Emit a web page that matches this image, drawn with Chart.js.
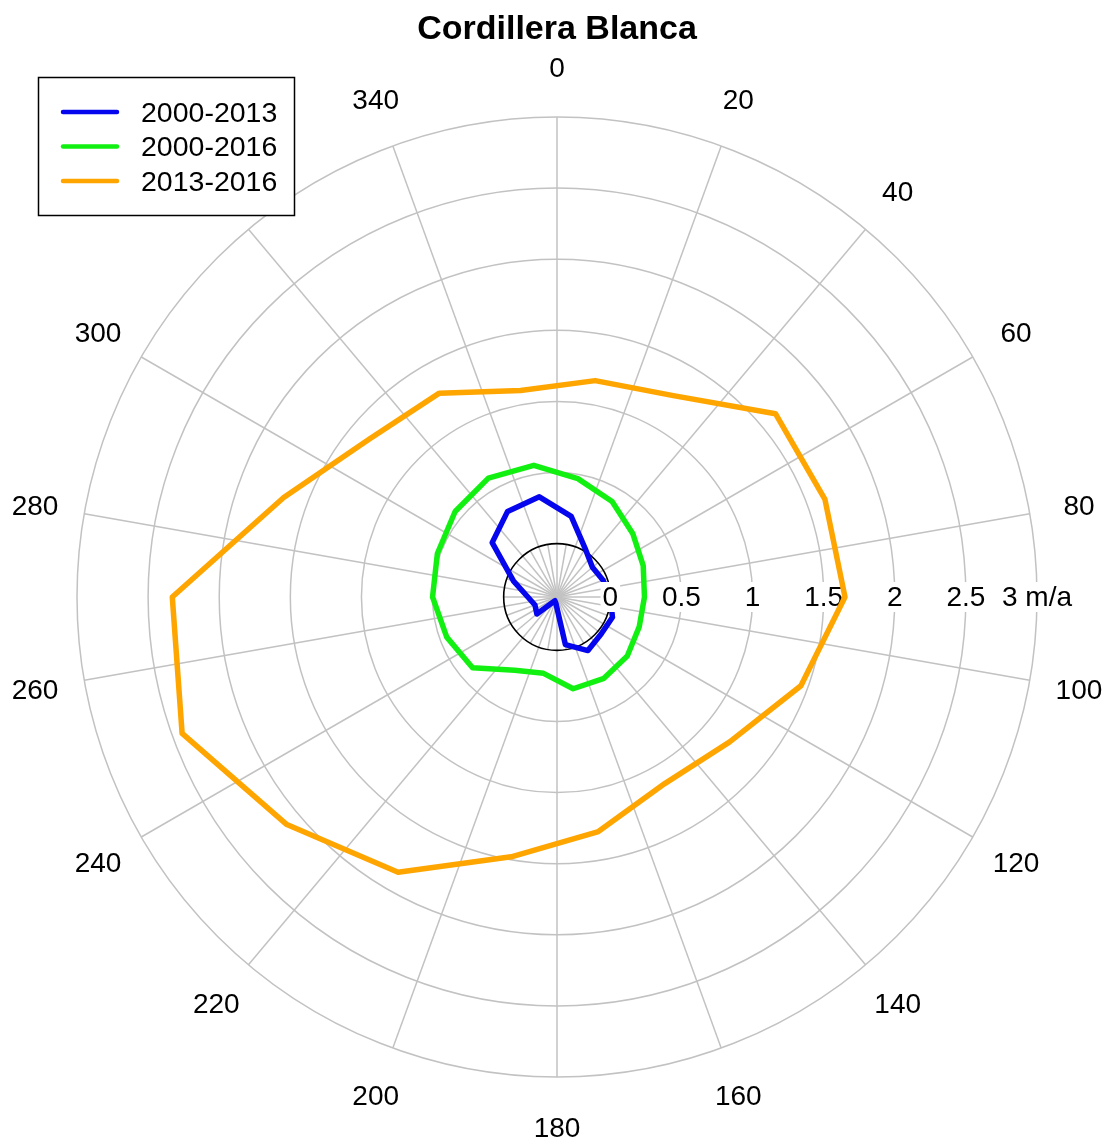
<!DOCTYPE html>
<html>
<head>
<meta charset="utf-8">
<script src="https://cdn.jsdelivr.net/npm/chart.js@4/dist/chart.umd.min.js"></script>
<style>
  html, body { margin: 0; padding: 0; background: #fff; }
  #wrap { width: 1108px; height: 1144px; position: relative; }
</style>
</head>
<body>
<div id="wrap"><canvas id="rosa"></canvas></div>
<script>
// Direcciones (grados) de la malla y de los datos
const gridAngles = [0, 10, 20, 30, 40, 50, 60, 70, 80, 90, 100, 110, 120, 130, 140, 150, 160, 170,
                    180, 190, 200, 210, 220, 230, 240, 250, 260, 270, 280, 290, 300, 310, 320, 330, 340, 350];
const directions = [10, 30, 50, 70, 90, 110, 130, 150, 170, 190, 210, 230, 250, 270, 290, 310, 330, 350];

// Tasas (m/a) por dirección
const rate2000_2013 = [0.20, 0.02, -0.05, -0.03, 0.00, 0.04, 0.03, 0.06, -0.035, -0.33, -0.345, -0.19, -0.21, -0.17, -0.05, 0.22, 0.32, 0.34];
const rate2000_2016 = [0.47, 0.40, 0.32, 0.27, 0.24, 0.24, 0.27, 0.285, 0.28, 0.17, 0.22, 0.40, 0.45, 0.50, 0.52, 0.56, 0.59, 0.565];
const rate2013_2016 = [1.17, 1.26, 1.63, 1.63, 1.65, 1.45, 1.21, 1.14, 1.30, 1.48, 1.86, 2.11, 2.43, 2.33, 1.67, 1.35, 1.28, 1.10];

const seriesNames = ['2000-2013', '2000-2016', '2013-2016'];
const seriesColors = ['#0505ee', '#12f012', '#ffa500'];

// Ejes
const angleTickLabels = ['0', '20', '40', '60', '80', '100', '120', '140', '160',
                         '180', '200', '220', '240', '260', '280', '300', '320', '340'];
const radialTicks = [0, 0.5, 1, 1.5, 2, 2.5, 3];
const radialTickLabels = ['0', '0.5', '1', '1.5', '2', '2.5', '3 m/a'];
const rMin = -0.375;
const rMax = 3;

const FONT = '"Liberation Sans", Arial, Helvetica, sans-serif';
const GRAY = '#c2c2c2';

// pone cada valor en su dirección, null en las direcciones intermedias
function onGrid(values) {
    return gridAngles.map(a => {
        const k = directions.indexOf(a);
        return k < 0 ? null : values[k];
    });
}

const allSeries = [rate2000_2013, rate2000_2016, rate2013_2016];

const decoracion = {
    id: 'decoracion',
    beforeDatasetsDraw(chart) {
        // radios cortos (cada 10°) hasta el círculo del cero, y el círculo del cero
        const s = chart.scales.r;
        const ctx = chart.ctx;
        const r0 = s.getDistanceFromCenterForValue(0);
        ctx.save();
        ctx.strokeStyle = GRAY;
        ctx.lineWidth = 1.5;
        for (let i = 1; i < gridAngles.length; i += 2) {
            const p = s.getPointPosition(i, r0);
            ctx.beginPath();
            ctx.moveTo(s.xCenter, s.yCenter);
            ctx.lineTo(p.x, p.y);
            ctx.stroke();
        }
        ctx.strokeStyle = '#000';
        ctx.lineWidth = 1.6;
        ctx.beginPath();
        ctx.arc(s.xCenter, s.yCenter, r0, 0, Math.PI * 2);
        ctx.stroke();
        ctx.restore();
    },
    afterDatasetDraw(chart, args) {
        // etiquetas radiales, dibujadas después de la primera serie
        if (args.index !== 0) return;
        const s = chart.scales.r;
        const ctx = chart.ctx;
        ctx.save();
        ctx.font = '28px ' + FONT;
        ctx.textAlign = 'center';
        ctx.textBaseline = 'middle';
        radialTicks.forEach((v, i) => {
            const x = s.xCenter + s.getDistanceFromCenterForValue(v);
            const y = s.yCenter;
            const w = ctx.measureText(radialTickLabels[i]).width;
            ctx.fillStyle = '#fff';
            ctx.fillRect(x - w / 2 - 2, y - 15, w + 4, 30);
            ctx.fillStyle = '#000';
            ctx.fillText(radialTickLabels[i], x, y + 1);
        });
        ctx.restore();
    },
    afterDraw(chart) {
        const s = chart.scales.r;
        const ctx = chart.ctx;
        ctx.save();
        // título
        ctx.fillStyle = '#000';
        ctx.font = 'bold 34px ' + FONT;
        ctx.textAlign = 'center';
        ctx.textBaseline = 'middle';
        ctx.fillText('Cordillera Blanca', s.xCenter, 30);

        // etiquetas de dirección
        ctx.font = '28px ' + FONT;
        const rl = s.drawingArea + 50;
        angleTickLabels.forEach((lab, k) => {
            const p = s.getPointPosition(k * 2, rl);
            ctx.fillText(lab, p.x, p.y + 2);
        });

        // leyenda (fondo blanco, tapa lo que hay debajo)
        ctx.fillStyle = '#fff';
        ctx.fillRect(38.5, 77.5, 256, 138);
        ctx.lineWidth = 1.5;
        ctx.strokeStyle = '#000';
        ctx.strokeRect(38.5, 77.5, 256, 138);
        ctx.font = '28.5px ' + FONT;
        chart.data.datasets.forEach((ds, i) => {
            const y = 112 + i * 34.5;
            ctx.beginPath();
            ctx.lineCap = 'round';
            ctx.lineWidth = 4.5;
            ctx.strokeStyle = ds.borderColor;
            ctx.moveTo(63, y);
            ctx.lineTo(117, y);
            ctx.stroke();
            ctx.fillStyle = '#000';
            ctx.textAlign = 'left';
            ctx.fillText(ds.label, 141, y + 2);
        });
        ctx.restore();
    }
};

new Chart(document.getElementById('rosa'), {
    type: 'radar',
    data: {
        labels: gridAngles.map(String),
        datasets: allSeries.map((vals, i) => ({
            label: seriesNames[i],
            data: onGrid(vals),
            borderColor: seriesColors[i],
            backgroundColor: 'transparent',
            borderWidth: 5.5,
            borderJoinStyle: 'round',
            fill: false,
            pointRadius: 0,
            pointHoverRadius: 0,
            spanGaps: true,
            order: 3 - i
        }))
    },
    options: {
        responsive: true,
        maintainAspectRatio: false,
        animation: false,
        layout: { padding: { left: 77, right: 71, top: 117, bottom: 67 } },
        plugins: {
            legend: { display: false },
            title: { display: false },
            tooltip: { enabled: false }
        },
        scales: {
            r: {
                min: rMin,
                max: rMax,
                afterBuildTicks: (scale) => {
                    scale.ticks = radialTicks.map(v => ({ value: v }));
                },
                ticks: { display: false },
                pointLabels: { display: false },
                grid: {
                    circular: true,
                    color: (c) => (c.tick && c.tick.value === 0) ? 'rgba(0,0,0,0)' : GRAY,
                    lineWidth: 1.5
                },
                angleLines: {
                    color: GRAY,
                    lineWidth: (c) => c.index % 2 === 0 ? 1.5 : 0
                }
            }
        }
    },
    plugins: [decoracion]
});
</script>
</body>
</html>
